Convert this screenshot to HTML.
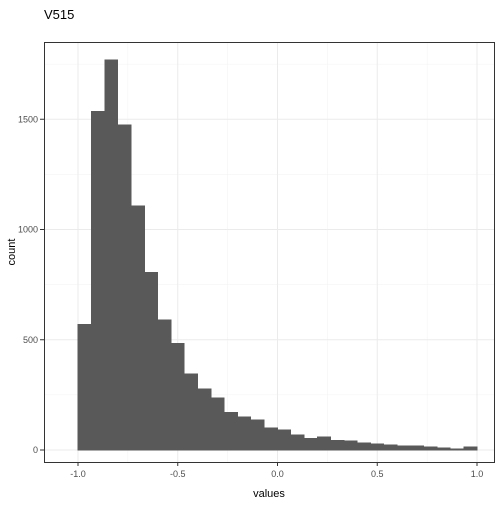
<!DOCTYPE html>
<html><head><meta charset="utf-8"><style>
body{margin:0;background:#fff;font-family:"Liberation Sans",sans-serif}
</style></head><body>
<svg id="c" width="504" height="504" xmlns="http://www.w3.org/2000/svg">
<rect width="504" height="504" fill="#fff"/>
<text x="44" y="19" font-size="13" fill="#000">V515</text>
<g id="grid"></g><g id="bars"></g><g id="axes"></g>
<rect x="44.5" y="42.5" width="450" height="420" fill="none" stroke="#333" stroke-width="1"/>
<text x="269" y="497" font-size="11" text-anchor="middle">values</text>
<text x="15" y="252" font-size="11" text-anchor="middle" transform="rotate(-90 15 252)">count</text>
</svg>
<script>
const binStart=-1.0, binWidth=2/30;
const counts=[571,1537,1769,1474,1107,807,590,485,345,277,236,172,150,136,100,91,68,54,59,45,41,32,27,23,18,18,14,9,5,14];
const xTicks=[-1.0,-0.5,0.0,0.5,1.0];
const xTickLabels=["-1.0","-0.5","0.0","0.5","1.0"];
const yTicks=[0,500,1000,1500];
const NS="http://www.w3.org/2000/svg";
const X=v=>277.5+v*199.5;
const Y=v=>450-v*0.2205;
const g=document.getElementById('grid'),b=document.getElementById('bars'),a=document.getElementById('axes');
function mk(p,tag,at){const e=document.createElementNS(NS,tag);for(const k in at)e.setAttribute(k,at[k]);p.appendChild(e);return e;}
[-1.25,-0.75,-0.25,0.25,0.75,1.25].forEach(v=>{const x=X(v);if(x>44&&x<494){const e=mk(g,'line',{x1:x,x2:x,y1:42,y2:462,stroke:'#f2f2f2','stroke-width':0.5});

}});
[250,750,1250,1750].forEach(v=>{const e=mk(g,'line',{x1:44,x2:494,y1:Y(v),y2:Y(v),stroke:'#f2f2f2','stroke-width':0.5});

});
xTicks.forEach((v,i)=>{const x=X(v);const e=mk(g,'line',{x1:x,x2:x,y1:42,y2:462,stroke:'#ebebeb','stroke-width':1});


mk(a,'line',{x1:x,x2:x,y1:462,y2:466,stroke:'#333'});
const t=mk(a,'text',{x:x,y:477,'font-size':9,'text-anchor':'middle',fill:'#4d4d4d'});t.textContent=xTickLabels[i];

});
yTicks.forEach(v=>{const y=Y(v);const e=mk(g,'line',{x1:44,x2:494,y1:y,y2:y,stroke:'#ebebeb','stroke-width':1});


mk(a,'line',{x1:40,x2:44,y1:y,y2:y,stroke:'#333'});
const t=mk(a,'text',{x:38,y:y+3,'font-size':9,'text-anchor':'end',fill:'#4d4d4d'});t.textContent=v;

});
counts.forEach((c,i)=>{const x0=X(binStart+i*binWidth),x1=X(binStart+(i+1)*binWidth);
const r=mk(b,'rect',{x:x0,y:Y(c),width:x1-x0,height:Y(0)-Y(c),fill:'#595959',stroke:'#595959','stroke-width':0.6,'shape-rendering':'crispEdges'});

});
</script>
</body></html>
